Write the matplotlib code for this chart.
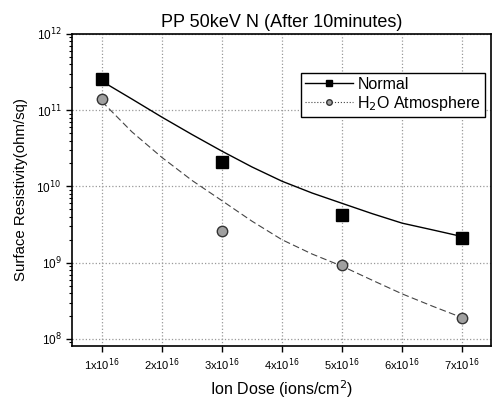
import matplotlib
matplotlib.use("Agg")
import matplotlib.pyplot as plt
from matplotlib.ticker import FixedLocator, LogLocator, NullFormatter

plt.rcParams['font.family'] = ['Liberation Sans', 'DejaVu Sans']

# Measured data (ion dose in units of 1e16 ions/cm^2)
dose = [1, 3, 5, 7]
normal = [2.55e11, 2.1e10, 4.2e9, 2.1e9]
h2o = [1.4e11, 2.6e9, 9.2e8, 1.9e8]

# Fitted curves
fit_dose_n = [1, 1.5, 2, 2.5, 3, 3.5, 4, 4.5, 5, 5.5, 6, 6.5, 7]
fit_normal = [2.4e11, 1.4e11, 8.1e10, 4.8e10, 2.9e10, 1.8e10, 1.17e10, 8.2e9, 6.0e9, 4.4e9, 3.3e9, 2.7e9, 2.2e9]
fit_dose_h = [1, 1.5, 2, 2.5, 3, 3.5, 4, 4.5, 5, 5.5, 6, 6.5, 7]
fit_h2o = [1.3e11, 5.2e10, 2.4e10, 1.2e10, 6.5e9, 3.5e9, 2.0e9, 1.3e9, 9.0e8, 5.9e8, 3.9e8, 2.7e8, 1.9e8]

xtick_vals = [1, 2, 3, 4, 5, 6, 7]
xtick_labels = [r'1x10$^{16}$', r'2x10$^{16}$', r'3x10$^{16}$', r'4x10$^{16}$',
                r'5x10$^{16}$', r'6x10$^{16}$', r'7x10$^{16}$']
ytick_vals = [1e8, 1e9, 1e10, 1e11, 1e12]
ytick_labels = [r'10$^{8}$', r'10$^{9}$', r'10$^{10}$', r'10$^{11}$', r'10$^{12}$']

fig = plt.figure(figsize=(4.92, 3.99), dpi=100)
ax = fig.add_axes([0.146, 0.133, 0.852, 0.782])

ax.set_yscale('log')
ax.set_xlim(0.5, 7.48)
ax.set_ylim(8.1e7, 1e12)

ax.grid(True, which='major', color='#999999', linestyle=':', linewidth=0.9)

ax.plot(fit_dose_n, fit_normal, color='black', linewidth=1.0, zorder=3)
ax.plot(fit_dose_h, fit_h2o, color='#444444', linewidth=0.8, linestyle=(0, (6, 3)), zorder=3)

ax.plot(dose, normal, linestyle='none', marker='s', markersize=8.5,
        markerfacecolor='black', markeredgecolor='black', zorder=4)
ax.plot(dose, h2o, linestyle='none', marker='o', markersize=7.5,
        markerfacecolor='#a0a0a0', markeredgecolor='#333333', markeredgewidth=1.0, zorder=4)

# legend handles
ln1, = ax.plot([], [], color='black', marker='s', markersize=4, linewidth=1.0)
ln2, = ax.plot([], [], color='#444444', marker='o', markersize=4, linestyle=':',
               markerfacecolor='#a0a0a0', markeredgecolor='#333333', linewidth=0.8)
leg = ax.legend([ln1, ln2], ['Normal', r'H$_{2}$O Atmosphere'],
                loc='upper right', bbox_to_anchor=(0.986, 0.875),
                fontsize=11.5, frameon=True, fancybox=False, framealpha=1,
                edgecolor='black', handlelength=3.0, borderpad=0.25,
                labelspacing=0.1, handletextpad=0.3, borderaxespad=0)
leg.get_frame().set_linewidth(1.0)

ax.xaxis.set_major_locator(FixedLocator(xtick_vals))
ax.set_xticklabels(xtick_labels, fontsize=8)
ax.yaxis.set_major_locator(FixedLocator(ytick_vals))
ax.set_yticklabels(ytick_labels, fontsize=8.5)
ax.yaxis.set_minor_locator(LogLocator(base=10, subs=range(2, 10)))
ax.yaxis.set_minor_formatter(NullFormatter())

ax.tick_params(axis='both', which='major', direction='out', length=4, width=1)
ax.tick_params(axis='y', which='minor', direction='out', length=2, width=0.8)
for s in ax.spines.values():
    s.set_linewidth(1.2)

ax.set_title('PP 50keV N (After 10minutes)', fontsize=13, pad=5)
ax.set_ylabel('Surface Resistivity(ohm/sq)', fontsize=10.8, labelpad=6)
ax.set_xlabel(r'Ion Dose (ions/cm$^{2}$)', fontsize=11.5, labelpad=4)

fig.savefig('out.png', dpi=100)
